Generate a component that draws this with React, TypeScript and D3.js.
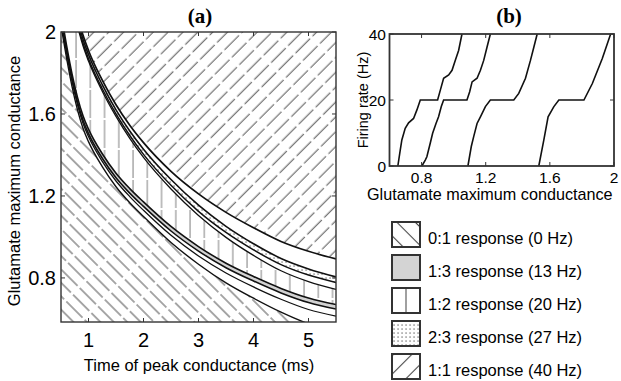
import * as d3 from "d3";

// ---- panel (a): boundary curves (t in ms, g = glutamate max conductance)
const tGrid = [0.5, 0.6, 0.7, 0.8, 0.9, 1.0, 1.25, 1.5, 1.75, 2.0, 2.5, 3.0, 3.5, 4.0, 4.5, 5.0, 5.5];
// bottom to top
const curveC1 = [2.03, 1.875, 1.735, 1.62, 1.53, 1.465, 1.343, 1.245, 1.167, 1.1, 0.973, 0.867, 0.776, 0.701, 0.633, 0.576, 0.534];
const curveL3 = [2.055, 1.9, 1.76, 1.645, 1.555, 1.49, 1.369, 1.273, 1.197, 1.13, 1.008, 0.907, 0.824, 0.756, 0.696, 0.646, 0.614];
const curveL2 = [2.069, 1.914, 1.774, 1.659, 1.569, 1.504, 1.384, 1.289, 1.214, 1.149, 1.029, 0.931, 0.85, 0.785, 0.727, 0.68, 0.648];
const curveL1 = [2.091, 1.936, 1.796, 1.681, 1.591, 1.526, 1.406, 1.311, 1.236, 1.171, 1.051, 0.953, 0.872, 0.807, 0.749, 0.702, 0.67];
const curveU4 = [2.418, 2.268, 2.138, 2.028, 1.933, 1.858, 1.711, 1.588, 1.481, 1.388, 1.234, 1.105, 0.998, 0.91, 0.835, 0.782, 0.744];
const curveU3 = [2.43, 2.28, 2.15, 2.04, 1.945, 1.87, 1.723, 1.6, 1.495, 1.403, 1.252, 1.125, 1.022, 0.937, 0.865, 0.814, 0.778];
const curveU2 = [2.45, 2.3, 2.17, 2.06, 1.965, 1.89, 1.743, 1.62, 1.517, 1.428, 1.28, 1.155, 1.052, 0.967, 0.895, 0.844, 0.805];
const curveU1 = [2.47, 2.32, 2.19, 2.08, 1.985, 1.91, 1.765, 1.645, 1.545, 1.46, 1.32, 1.21, 1.12, 1.045, 0.978, 0.93, 0.893];

const xTicksA = [1, 2, 3, 4, 5];
const yTicksA = [0.8, 1.2, 1.6, 2];

// ---- panel (b): firing rate vs glutamate max conductance, [g, Hz]
const rate1 = [[0.652, 0], [0.667, 4.8], [0.677, 7.9], [0.698, 11.4], [0.719, 13.1], [0.75, 14.4], [0.771, 17], [0.792, 20], [0.9, 20], [0.917, 23], [0.9375, 26.6], [0.969, 27.6], [0.99, 29], [1.01, 32], [1.031, 35], [1.052, 40]];
const rate2 = [[0.802, 0], [0.823, 1.8], [0.833, 2.8], [0.854, 6.9], [0.869, 9.9], [0.89, 12.9], [0.906, 14.9], [0.923, 18], [0.9375, 20], [1.083, 20], [1.1, 22.5], [1.115, 25.5], [1.146, 26.6], [1.167, 29], [1.1875, 32], [1.208, 36], [1.229, 40]];
const rate3 = [[1.089, 0], [1.11, 5.9], [1.125, 8.9], [1.146, 12.9], [1.167, 14.9], [1.198, 18], [1.229, 20], [1.375, 20], [1.406, 22], [1.448, 26.6], [1.479, 32], [1.5, 36], [1.521, 40]];
const rate4 = [[1.531, 0], [1.5625, 7.9], [1.589, 14.9], [1.625, 18], [1.656, 20], [1.8125, 20], [1.865, 25], [1.927, 32.6], [1.979, 40]];

const xTicksB = [0.8, 1.2, 1.6, 2];
const yTicksB = [0, 20, 40];

const legendLabels = [
  "0:1 response (0 Hz)",
  "1:3 response (13 Hz)",
  "1:2 response (20 Hz)",
  "2:3 response (27 Hz)",
  "1:1 response (40 Hz)",
];
const legendFills = ["url(#lgBack)", "#d4d4d4", "url(#lgVert)", "url(#dots)", "url(#lgSlash)"];

const SANS = "'Liberation Sans', Arial, sans-serif";
const SERIF = "'Liberation Serif', 'Times New Roman', serif";

export default function App() {
  const xA = d3.scaleLinear([0.5, 5.5], [61, 336]);
  const yA = d3.scaleLinear([0.585, 2], [322, 32]);
  const xB = d3.scaleLinear([0.6, 2], [389.5, 614]);
  const yB = d3.scaleLinear([0, 40], [166, 34]);

  const line = d3.line<number>()
    .x((_, i) => xA(tGrid[i]))
    .curve(d3.curveMonotoneX);
  const band = (lo: number[] | null, hi: number[] | null) =>
    d3.area<number>()
      .x(t => xA(t))
      .y0((_, i) => yA(lo ? lo[i] : 0.3))
      .y1((_, i) => yA(hi ? hi[i] : 2.8))
      .curve(d3.curveMonotoneX)(tGrid) as string;
  const path = (vals: number[]) => line.y(v => yA(v))(vals) as string;

  const rateLine = d3.line<number[]>().x(d => xB(d[0])).y(d => yB(d[1]));

  const regions = [
    { lo: null, hi: curveC1, fill: "url(#hatchBack)" },
    { lo: curveL2, hi: curveL1, fill: "#d2d2d2" },
    { lo: curveL1, hi: curveU4, fill: "url(#vert)" },
    { lo: curveU3, hi: curveU2, fill: "url(#dots)" },
    { lo: curveU1, hi: null, fill: "url(#hatchSlash)" },
  ];
  const curves = [
    { v: curveC1, w: 1.4 },
    { v: curveL3, w: 1.3 },
    { v: curveL2, w: 1.6 },
    { v: curveL1, w: 1.6 },
    { v: curveU4, w: 1.3 },
    { v: curveU3, w: 1.5 },
    { v: curveU2, w: 1.6 },
    { v: curveU1, w: 1.7 },
  ];

  return (
    <svg width={621} height={381} viewBox="0 0 621 381"
      style={{ position: "absolute", left: 0, top: 0, background: "#fff", fontFamily: SANS }}>
      <defs>
        <clipPath id="clipA"><rect x={61} y={32} width={275} height={290} /></clipPath>
        <pattern id="hatchBack" patternUnits="userSpaceOnUse" width={9.5} height={26} patternTransform="rotate(-45)">
          <line x1={4.75} y1={0} x2={4.75} y2={23} stroke="#3a3a3a" strokeWidth={0.9} />
        </pattern>
        <pattern id="hatchSlash" patternUnits="userSpaceOnUse" width={10.5} height={24} patternTransform="rotate(45)">
          <line x1={5} y1={0} x2={5} y2={20.5} stroke="#3a3a3a" strokeWidth={0.9} />
        </pattern>
        <pattern id="vert" patternUnits="userSpaceOnUse" width={14.25} height={30}>
          <line x1={4.8} y1={0} x2={4.8} y2={28} stroke="#8a8a8a" strokeWidth={1.1} />
        </pattern>
        <pattern id="dots" patternUnits="userSpaceOnUse" width={4} height={4}>
          <rect x={1.5} y={1.5} width={1.1} height={1.1} fill="#333" />
        </pattern>
        <pattern id="lgBack" patternUnits="userSpaceOnUse" width={13} height={40} patternTransform="rotate(-45)">
          <line x1={6.5} y1={0} x2={6.5} y2={40} stroke="#444" strokeWidth={1.1} />
        </pattern>
        <pattern id="lgSlash" patternUnits="userSpaceOnUse" width={13} height={40} patternTransform="rotate(45)">
          <line x1={6.5} y1={0} x2={6.5} y2={40} stroke="#444" strokeWidth={1.1} />
        </pattern>
        <pattern id="lgVert" patternUnits="userSpaceOnUse" width={28} height={40}>
          <line x1={14} y1={0} x2={14} y2={40} stroke="#888" strokeWidth={1.6} />
        </pattern>
      </defs>

      {/* panel (a) */}
      <text x={200} y={23} textAnchor="middle" fontFamily={SERIF} fontWeight="bold" fontSize={21}>(a)</text>
      <g clipPath="url(#clipA)">
        {regions.map((r, i) => (
          <path key={i} d={band(r.lo, r.hi)} fill={r.fill} stroke="none" />
        ))}
        {curves.map((c, i) => (
          <path key={i} d={path(c.v)} fill="none" stroke="#111" strokeWidth={c.w} />
        ))}
      </g>
      <rect x={61} y={32} width={275} height={290} fill="none" stroke="#333" strokeWidth={1.4} />
      {xTicksA.map(t => (
        <g key={t}>
          <line x1={xA(t)} x2={xA(t)} y1={322} y2={318} stroke="#333" />
          <line x1={xA(t)} x2={xA(t)} y1={32} y2={36} stroke="#333" />
          <text x={xA(t)} y={347} textAnchor="middle" fontSize={20}>{t}</text>
        </g>
      ))}
      {yTicksA.map(v => (
        <g key={v}>
          <line x1={61} x2={65} y1={yA(v)} y2={yA(v)} stroke="#333" />
          <line x1={336} x2={332} y1={yA(v)} y2={yA(v)} stroke="#333" />
          <text x={56} y={yA(v) + 7} textAnchor="end" fontSize={20}>{v}</text>
        </g>
      ))}
      <text x={199} y={371} textAnchor="middle" fontSize={16.5}>Time of peak conductance (ms)</text>
      <text transform="translate(20,181) rotate(-90)" textAnchor="middle" fontSize={16.5}>
        Glutamate maximum conductance
      </text>

      {/* panel (b) */}
      <text x={509} y={23} textAnchor="middle" fontFamily={SERIF} fontWeight="bold" fontSize={21}>(b)</text>
      {[rate1, rate2, rate3, rate4].map((s, i) => (
        <path key={i} d={rateLine(s) as string} fill="none" stroke="#111" strokeWidth={1.6} />
      ))}
      <rect x={389.5} y={34} width={224.5} height={132} fill="none" stroke="#333" strokeWidth={1.8} />
      {xTicksB.map(v => (
        <g key={v}>
          <line x1={xB(v)} x2={xB(v)} y1={166} y2={162} stroke="#333" />
          <line x1={xB(v)} x2={xB(v)} y1={34} y2={38} stroke="#333" />
          <text x={xB(v)} y={183} textAnchor="middle" fontSize={15.5}>{v}</text>
        </g>
      ))}
      {yTicksB.map(v => (
        <g key={v}>
          <line x1={389.5} x2={393.5} y1={yB(v)} y2={yB(v)} stroke="#333" />
          <line x1={614} x2={610} y1={yB(v)} y2={yB(v)} stroke="#333" />
          <text x={386} y={yB(v) + 6} textAnchor="end" fontSize={15.5}>{v}</text>
        </g>
      ))}
      <text x={367} y={200} fontSize={16.2}>Glutamate maximum conductance</text>
      <text transform="translate(368,100) rotate(-90)" textAnchor="middle" fontSize={14.5}>Firing rate (Hz)</text>

      {/* legend */}
      {legendLabels.map((lab, i) => (
        <g key={lab} transform={`translate(0,${i * 33})`}>
          <rect x={392} y={222} width={28} height={25} fill="#fff" />
          <rect x={392} y={222} width={28} height={25} fill={legendFills[i]} stroke="#333" strokeWidth={2} />
          <text x={428} y={244} fontSize={16.5}>{lab}</text>
        </g>
      ))}
    </svg>
  );
}
